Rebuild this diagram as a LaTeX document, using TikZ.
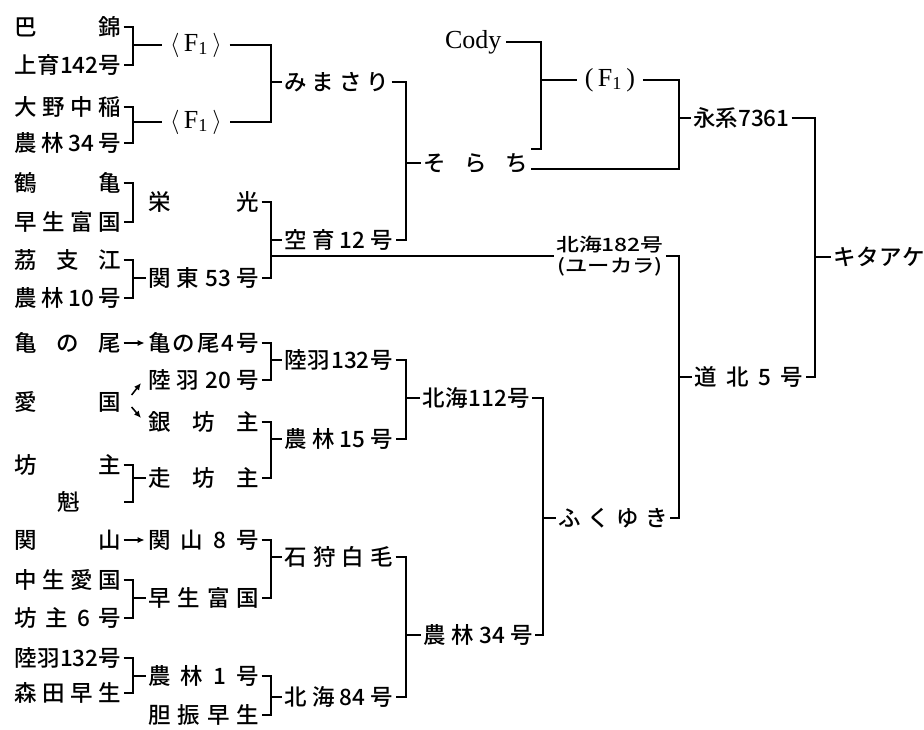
\documentclass[tikz,border=0pt]{standalone}
\usepackage{fontspec}
\newfontfamily\jpfont{Noto Sans CJK JP}[BoldFont={Noto Sans CJK JP Medium}]
\newfontfamily\latinfont{Liberation Serif}
\usepackage{tikz}
\usetikzlibrary{arrows.meta}
\newcommand{\jspread}[2][2.68cm]{\makebox[#1][s]{#2}}

\begin{document}
\begin{tikzpicture}[x=0.025cm,y=-0.025cm,
  font=\jpfont\bfseries\fontsize{16}{19}\selectfont,
  hinshu/.style={anchor=west,inner xsep=1pt,inner ysep=0pt},
  latin/.style={font=\latinfont\fontsize{18.5}{21}\selectfont},
  line width=1.1pt,>={Latex[length=5pt,width=4.5pt]}]
\useasboundingbox (0,0) rectangle (924,729);
% Bracket columns
\coordinate (c1) at (133,0);
\coordinate (c2) at (271,0);
\coordinate (c3) at (406,0);
\coordinate (c4) at (543,0);
\coordinate (c5) at (541,0);
\coordinate (c6) at (679,0);
\coordinate (c7) at (815,0);
% First column
\node[hinshu] (tomoe) at (12,27) {\jspread{巴\hfill 錦}};
\node[hinshu] (kamiiku) at (12,65) {\jspread{上\hfill 育\hfill 142\hfill 号}};
\node[hinshu] (ohno) at (12,107) {\jspread{大\hfill 野\hfill 中\hfill 稲}};
\node[hinshu] (norinA) at (12,143) {\jspread{農\hfill 林\hfill 34\hfill 号}};
\node[hinshu] (tsurukame) at (12,183) {\jspread{鶴\hfill 亀}};
\node[hinshu] (wase) at (12,222) {\jspread{早\hfill 生\hfill 富\hfill 国}};
\node[hinshu] (reishiko) at (12,260) {\jspread{茘\hfill 支\hfill 江}};
\node[hinshu] (norinten) at (12,298) {\jspread{農\hfill 林\hfill 10\hfill 号}};
\node[hinshu] (kamenoo) at (12,343) {\jspread{亀\hfill の\hfill 尾}};
\node[hinshu] (aikoku) at (12,402) {\jspread{愛\hfill 国}};
\node[hinshu] (bozu) at (12,465) {\jspread{坊\hfill 主}};
\node[hinshu] (sakigake) at (55,502) {魁};
\node[hinshu] (sekiyama) at (12,540) {\jspread{関\hfill 山}};
\node[hinshu] (nakate) at (12,580) {\jspread{中\hfill 生\hfill 愛\hfill 国}};
\node[hinshu] (bozusix) at (12,618) {\jspread{坊\hfill 主\hfill 6\hfill 号}};
\node[hinshu] (rikuuB) at (12,658) {\jspread{陸\hfill 羽\hfill 132\hfill 号}};
\node[hinshu] (morita) at (12,693) {\jspread{森\hfill 田\hfill 早\hfill 生}};
% Second column
\node[latin,inner xsep=5pt] (fa) at (196,45) {$\langle$\,F\textsubscript{1}\,$\rangle$};
\node[latin,inner xsep=5pt] (fb) at (196,122) {$\langle$\,F\textsubscript{1}\,$\rangle$};
\node[hinshu] (eiko) at (146,202) {\jspread[2.78cm]{栄\hfill 光}};
\node[hinshu] (kanto) at (146,278) {\jspread[2.78cm]{関\hfill 東\hfill 53\hfill 号}};
\node[hinshu] (kamenoofour) at (146,343) {\jspread[2.78cm]{亀\hfill の\hfill 尾\hfill 4\hfill 号}};
\node[hinshu] (rikuutwenty) at (146,380) {\jspread[2.78cm]{陸\hfill 羽\hfill 20\hfill 号}};
\node[hinshu] (ginbozu) at (146,422) {\jspread[2.78cm]{銀\hfill 坊\hfill 主}};
\node[hinshu] (hashiri) at (146,478) {\jspread[2.78cm]{走\hfill 坊\hfill 主}};
\node[hinshu] (sekiyamaeight) at (146,540) {\jspread[2.78cm]{関\hfill 山\hfill 8\hfill 号}};
\node[hinshu] (waseB) at (146,598) {\jspread[2.78cm]{早\hfill 生\hfill 富\hfill 国}};
\node[hinshu] (norinone) at (146,676) {\jspread[2.78cm]{農\hfill 林\hfill 1\hfill 号}};
\node[hinshu] (iburi) at (146,715) {\jspread[2.78cm]{胆\hfill 振\hfill 早\hfill 生}};
% Third column
\node[hinshu] (mimasari) at (282,82) {\jspread[2.63cm]{み\hfill ま\hfill さ\hfill り}};
\node[hinshu] (kuiku) at (282,240) {\jspread[2.73cm]{空\hfill 育\hfill 12\hfill 号}};
\node[hinshu] (rikuu) at (282,360) {\jspread[2.73cm]{陸\hfill 羽\hfill 132\hfill 号}};
\node[hinshu] (norinfifteen) at (282,439) {\jspread[2.73cm]{農\hfill 林\hfill 15\hfill 号}};
\node[hinshu] (ishikari) at (282,557) {\jspread[2.73cm]{石\hfill 狩\hfill 白\hfill 毛}};
\node[hinshu] (hokkaieighty) at (282,697) {\jspread[2.73cm]{北\hfill 海\hfill 84\hfill 号}};
% Fourth column
\node[hinshu] (sorachi) at (421,163) {\jspread[2.63cm]{そ\hfill ら\hfill ち}};
\node[hinshu] (hokkaiB) at (420,398) {\jspread[2.7cm]{北\hfill 海\hfill 112\hfill 号}};
\node[hinshu] (norinB) at (421,635) {\jspread[2.75cm]{農\hfill 林\hfill 34\hfill 号}};
% Right part
\node[latin,anchor=west,inner xsep=3pt] (cody) at (440,42) {Cody};
\node[latin,inner xsep=5pt] (fc) at (610,80) {(\,F\textsubscript{1}\,)};
\node[hinshu] (eikei) at (691,118) {永系7361};
\node[hinshu,align=center,font=\jpfont\bfseries\fontsize{13}{15}\selectfont] (hokkaiA) at (554,256)
  {\scalebox{1.25}[1]{北海182号}\\\scalebox{1.22}[1]{(ユーカラ)}};
\node[hinshu] (dohoku) at (692,377) {\jspread[2.73cm]{道\hfill 北\hfill 5\hfill 号}};
\node[hinshu] (fukuyuki) at (556,518) {\jspread[2.75cm]{ふ\hfill く\hfill ゆ\hfill き}};
\node[hinshu] (kitaake) at (831,257) {\jspread[2.3cm]{キ\hfill タ\hfill ア\hfill ケ}};
\coordinate (soraU) at ([yshift=0.35cm]sorachi.east);
\coordinate (soraD) at ([yshift=-0.15cm]sorachi.east);
% Crosses, first column
\draw (tomoe.east) -- (tomoe.east -| c1) -- (c1 |- kamiiku) -- (kamiiku.east);
\draw (c1 |- fa) -- (fa.west);
\draw (ohno.east) -- (ohno.east -| c1) -- (c1 |- norinA) -- (norinA.east);
\draw (c1 |- fb) -- (fb.west);
\draw (tsurukame.east) -- (tsurukame.east -| c1) -- (c1 |- wase) -- (wase.east);
\draw (reishiko.east) -- (reishiko.east -| c1) -- (c1 |- norinten) -- (norinten.east);
\draw (c1 |- kanto) -- (kanto.west);
\draw[->,shorten >=1pt] (kamenoo.east) -- (kamenoofour.west);
\draw[->] ([shift={(0.2cm,0.175cm)}]aikoku.east) -- ([shift={(-0.125cm,-0.075cm)}]rikuutwenty.west);
\draw[->] ([shift={(0.2cm,-0.125cm)}]aikoku.east) -- ([shift={(-0.125cm,0.1cm)}]ginbozu.west);
\draw (bozu.east) -- (bozu.east -| c1) -- (c1 |- sakigake) -- (sakigake -| bozu.east);
\draw (c1 |- hashiri) -- (hashiri.west);
\draw[->,shorten >=1pt] (sekiyama.east) -- (sekiyamaeight.west);
\draw (nakate.east) -- (nakate.east -| c1) -- (c1 |- bozusix) -- (bozusix.east);
\draw (c1 |- waseB) -- (waseB.west);
\draw (rikuuB.east) -- (rikuuB.east -| c1) -- (c1 |- morita) -- (morita.east);
\draw (c1 |- norinone) -- (norinone.west);
% Crosses, second column
\draw (fa.east) -- (fa.east -| c2) -- (c2 |- fb) -- (fb.east);
\draw (c2 |- mimasari) -- (mimasari.west);
\draw (eiko.east) -- (eiko.east -| c2) -- (c2 |- kanto) -- (kanto.east);
\draw (c2 |- kuiku) -- (kuiku.west);
\draw (c2 |- hokkaiA) -- (hokkaiA.west);
\draw (kamenoofour.east) -- (kamenoofour.east -| c2) -- (c2 |- rikuutwenty) -- (rikuutwenty.east);
\draw (c2 |- rikuu) -- (rikuu.west);
\draw (ginbozu.east) -- (ginbozu.east -| c2) -- (c2 |- hashiri) -- (hashiri.east);
\draw (c2 |- norinfifteen) -- (norinfifteen.west);
\draw (sekiyamaeight.east) -- (sekiyamaeight.east -| c2) -- (c2 |- waseB) -- (waseB.east);
\draw (c2 |- ishikari) -- (ishikari.west);
\draw (norinone.east) -- (norinone.east -| c2) -- (c2 |- iburi) -- (iburi.east);
\draw (c2 |- hokkaieighty) -- (hokkaieighty.west);
% Crosses, third column
\draw (mimasari.east) -- (mimasari.east -| c3) -- (c3 |- kuiku) -- (kuiku.east);
\draw (c3 |- sorachi) -- (sorachi.west);
\draw (rikuu.east) -- (rikuu.east -| c3) -- (c3 |- norinfifteen) -- (norinfifteen.east);
\draw (c3 |- hokkaiB) -- (hokkaiB.west);
\draw (ishikari.east) -- (ishikari.east -| c3) -- (c3 |- hokkaieighty) -- (hokkaieighty.east);
\draw (c3 |- norinB) -- (norinB.west);
% Crosses, fourth column
\draw (hokkaiB.east) -- (hokkaiB.east -| c4) -- (c4 |- norinB) -- (norinB.east);
\draw (c4 |- fukuyuki) -- (fukuyuki.west);
% Cody and backcross
\draw (cody.east) -- (cody.east -| c5) -- (c5 |- soraU) -- (soraU);
\draw (c5 |- fc) -- (fc.west);
\draw (fc.east) -- (fc.east -| c6) -- (c6 |- soraD) -- (soraD);
\draw (c6 |- eikei) -- (eikei.west);
\draw (hokkaiA.east) -- (hokkaiA.east -| c6) -- (c6 |- fukuyuki) -- (fukuyuki.east);
\draw (c6 |- dohoku) -- (dohoku.west);
% Last cross
\draw (eikei.east) -- (eikei.east -| c7) -- (c7 |- dohoku) -- (dohoku.east);
\draw (c7 |- kitaake) -- (kitaake.west);
\end{tikzpicture}
\end{document}
